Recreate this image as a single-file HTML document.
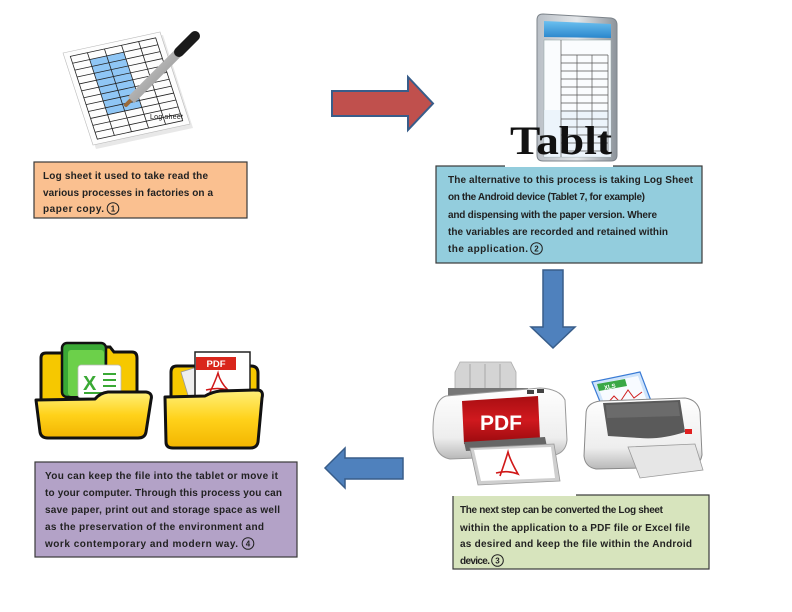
<!DOCTYPE html>
<html><head><meta charset="utf-8"><style>
html,body{margin:0;padding:0;background:#fff;}
svg{display:block;}
.t{font-family:"Liberation Sans",Arial,sans-serif;font-weight:bold;font-size:10px;fill:#222;}
.n{font-family:"Liberation Sans",Arial,sans-serif;font-weight:bold;font-size:8px;fill:#222;text-anchor:middle;}
</style></head><body>
<svg width="792" height="612" viewBox="0 0 792 612" xmlns="http://www.w3.org/2000/svg">
<defs>
<linearGradient id="yel" x1="0" y1="0" x2="0" y2="1"><stop offset="0" stop-color="#fff07a"/><stop offset="0.5" stop-color="#ffd21a"/><stop offset="1" stop-color="#f2b400"/></linearGradient>
<linearGradient id="gray" x1="0" y1="0" x2="1" y2="0"><stop offset="0" stop-color="#b9bfc6"/><stop offset="0.5" stop-color="#e4e7ea"/><stop offset="1" stop-color="#8d949b"/></linearGradient>
<linearGradient id="body" x1="0" y1="0" x2="0" y2="1"><stop offset="0" stop-color="#ffffff"/><stop offset="0.7" stop-color="#eeeeee"/><stop offset="1" stop-color="#b8b8b8"/></linearGradient>
<linearGradient id="red" x1="0" y1="0" x2="0" y2="1"><stop offset="0" stop-color="#a90e12"/><stop offset="0.5" stop-color="#d0191e"/><stop offset="1" stop-color="#9a0a0e"/></linearGradient>
<linearGradient id="pen" x1="0" y1="0" x2="1" y2="1"><stop offset="0" stop-color="#f4f4f4"/><stop offset="1" stop-color="#8a8a8a"/></linearGradient>
<linearGradient id="blu" x1="0" y1="0" x2="0" y2="1"><stop offset="0" stop-color="#6cc0f0"/><stop offset="1" stop-color="#2a86cc"/></linearGradient>
</defs>

<!-- ===== Log sheet image ===== -->
<polygon points="65,56 163,35 193,128 96,149" fill="#d8d8d8" opacity="0.6"/>
<g transform="matrix(0.97,-0.21,0.30,0.92,63,53)">
  <rect x="0" y="0" width="100" height="100" fill="#fdfdfd" stroke="#bbb" stroke-width="0.6" vector-effect="non-scaling-stroke"/>
  <rect x="23.6" y="12.5" width="35.2" height="60" fill="#8fc6f5"/>
  <g stroke="#222" stroke-width="0.8" fill="none">
    <rect x="6" y="5" width="88" height="90" vector-effect="non-scaling-stroke"/>
    <line x1="23.6" y1="5" x2="23.6" y2="95" vector-effect="non-scaling-stroke"/>
    <line x1="41.2" y1="5" x2="41.2" y2="95" vector-effect="non-scaling-stroke"/>
    <line x1="58.8" y1="5" x2="58.8" y2="95" vector-effect="non-scaling-stroke"/>
    <line x1="76.4" y1="5" x2="76.4" y2="95" vector-effect="non-scaling-stroke"/>
    <line x1="6" y1="12.5" x2="94" y2="12.5" vector-effect="non-scaling-stroke"/>
    <line x1="6" y1="20" x2="94" y2="20" vector-effect="non-scaling-stroke"/>
    <line x1="6" y1="27.5" x2="94" y2="27.5" vector-effect="non-scaling-stroke"/>
    <line x1="6" y1="35" x2="94" y2="35" vector-effect="non-scaling-stroke"/>
    <line x1="6" y1="42.5" x2="94" y2="42.5" vector-effect="non-scaling-stroke"/>
    <line x1="6" y1="50" x2="94" y2="50" vector-effect="non-scaling-stroke"/>
    <line x1="6" y1="57.5" x2="94" y2="57.5" vector-effect="non-scaling-stroke"/>
    <line x1="6" y1="65" x2="94" y2="65" vector-effect="non-scaling-stroke"/>
    <line x1="6" y1="72.5" x2="94" y2="72.5" vector-effect="non-scaling-stroke"/>
    <line x1="6" y1="80" x2="94" y2="80" vector-effect="non-scaling-stroke"/>
    <line x1="6" y1="87.5" x2="94" y2="87.5" vector-effect="non-scaling-stroke"/>
  </g>
</g>
<line x1="126" y1="105" x2="132" y2="99" stroke="#9a6a3a" stroke-width="4" stroke-linecap="round"/>
<line x1="131" y1="100" x2="180" y2="51" stroke="url(#pen)" stroke-width="9"/>
<line x1="131" y1="100" x2="180" y2="51" stroke="#777" stroke-width="9" fill="none" opacity="0.25"/>
<line x1="179" y1="52" x2="195" y2="36" stroke="#1a1a1a" stroke-width="10" stroke-linecap="round"/>
<text x="150" y="119" font-family="Liberation Sans, Arial, sans-serif" font-size="7" fill="#111" textLength="33">Log sheet</text>

<!-- ===== Red arrow ===== -->
<polygon points="332,91 408,91 408,77 433,103.5 408,130 408,116 332,116" fill="#C0504D" stroke="#385D8A" stroke-width="2"/>

<!-- ===== Box 1 ===== -->
<rect x="34" y="162" width="213" height="56" fill="#FAC090" stroke="#3a3a3a" stroke-width="1.2"/>
<text class="t" x="43" y="179" textLength="165">Log sheet it used to take read the</text>
<text class="t" x="43" y="196" textLength="170">various processes in factories on a</text>
<text class="t" x="43" y="212" textLength="61">paper copy.</text>
<circle cx="113" cy="208.5" r="5.8" fill="none" stroke="#222" stroke-width="1"/><text class="n" x="113" y="211.5">1</text>

<!-- ===== Box 2 ===== -->
<rect x="436" y="166" width="266" height="97" fill="#93CDDD" stroke="#3a3a3a" stroke-width="1.2"/>
<text class="t" x="448" y="183" textLength="245">The alternative to this process is taking Log Sheet</text>
<text class="t" x="448" y="200" textLength="197">on the Android device (Tablet 7, for example)</text>
<text class="t" x="448" y="218" textLength="209">and dispensing with the paper version. Where</text>
<text class="t" x="448" y="235" textLength="220">the variables are recorded and retained within</text>
<text class="t" x="448" y="252" textLength="80">the application.</text>
<circle cx="536.5" cy="248.5" r="5.8" fill="none" stroke="#222" stroke-width="1"/><text class="n" x="536.5" y="251.5">2</text>

<!-- ===== Tablet image ===== -->
<rect x="505" y="0" width="108" height="167" fill="#fff"/>
<path d="M543,14 L611,18 Q617,19 617,25 L617,155 Q617,161 611,161 L543,161 Q537,161 537,155 L537,20 Q537,14 543,14 Z" fill="url(#gray)" stroke="#7d848b" stroke-width="1"/>
<path d="M544,21 L611,24 L611,38 L544,37 Z" fill="url(#blu)"/>
<rect x="544" y="40" width="67" height="117" fill="#fafcfe" stroke="#9aa" stroke-width="0.6"/>
<rect x="544" y="110" width="67" height="47" fill="#e6f1fa" opacity="0.7"/>
<g stroke="#555" stroke-width="0.7" fill="none">
  <line x1="561" y1="40" x2="561" y2="157"/>
  <line x1="577" y1="55" x2="577" y2="152"/>
  <line x1="592" y1="55" x2="592" y2="152"/>
  <line x1="561" y1="55" x2="608" y2="55"/>
  <line x1="561" y1="63" x2="608" y2="63"/>
  <line x1="561" y1="71" x2="608" y2="71"/>
  <line x1="561" y1="79" x2="608" y2="79"/>
  <line x1="561" y1="87" x2="608" y2="87"/>
  <line x1="561" y1="95" x2="608" y2="95"/>
  <line x1="561" y1="103" x2="608" y2="103"/>
  <line x1="561" y1="111" x2="608" y2="111"/>
  <line x1="561" y1="119" x2="608" y2="119"/>
  <line x1="561" y1="127" x2="608" y2="127"/>
  <line x1="561" y1="135" x2="608" y2="135"/>
  <line x1="561" y1="143" x2="608" y2="143"/>
  <line x1="561" y1="151" x2="608" y2="151"/>
  <line x1="608" y1="55" x2="608" y2="152"/>
</g>
<text x="510" y="154" font-family="Liberation Serif, Times New Roman, serif" font-weight="bold" font-size="40" fill="#111" textLength="102" lengthAdjust="spacingAndGlyphs">Tablt</text>

<!-- ===== Down arrow ===== -->
<polygon points="543,270 563,270 563,327 575,327 553,348 531,327 543,327" fill="#4F81BD" stroke="#385D8A" stroke-width="1.5"/>

<!-- ===== PDF printer ===== -->
<polygon points="455,372 460,362 511,362 516,372 516,398 455,398" fill="#d4d4d4" stroke="#aaa" stroke-width="0.8"/>
<g stroke="#a8a8a8" stroke-width="1"><line x1="470" y1="364" x2="470" y2="397"/><line x1="485" y1="364" x2="485" y2="397"/><line x1="500" y1="364" x2="500" y2="397"/></g>
<rect x="448" y="388" width="80" height="10" fill="#777"/>
<path d="M446,396 L540,388 Q560,389 565,400 L567,440 Q566,452 555,455 L450,459 Q433,456 433,430 Q433,400 446,396 Z" fill="url(#body)" stroke="#9a9a9a" stroke-width="1"/>
<rect x="527" y="390" width="7" height="4" fill="#444"/><rect x="537" y="389" width="7" height="4" fill="#444"/>
<path d="M462,401 L538,396 L540,439 L464,444 Z" fill="url(#red)"/>
<text x="501" y="430" font-family="Liberation Sans, Arial, sans-serif" font-weight="bold" font-size="21" fill="#fff" text-anchor="middle">PDF</text>
<path d="M464,442 L545,437 L547,447 L466,451 Z" fill="#666"/>
<polygon points="470,448 554,444 560,481 478,485" fill="#cfcfcf" stroke="#999" stroke-width="0.8"/>
<polygon points="474,450 551,447 555,478 481,481" fill="#fff"/>
<path d="M500,476 Q505,462 508,452 Q510,460 518,474 Q508,470 496,473" fill="none" stroke="#d01818" stroke-width="1.6"/>

<!-- ===== XLS printer ===== -->
<polygon points="592,382 640,372 653,406 605,414" fill="#cfe4fb" stroke="#3a7bd5" stroke-width="1.2"/>
<polygon points="597,384 638,376 648,404 607,411" fill="#f8fbff"/>
<polygon points="597,384 625,379 627,386 599,391" fill="#3aa845"/>
<text x="604" y="389" font-family="Liberation Sans, Arial, sans-serif" font-weight="bold" font-size="6" fill="#fff" transform="rotate(-11 608 387)">XLS</text>
<polyline points="606,405 614,396 620,402 628,390 634,398 642,392" fill="none" stroke="#d02020" stroke-width="1"/>
<path d="M586,414 Q586,403 600,401 L685,398 Q698,400 700,412 L702,455 Q700,466 690,467 L596,469 Q585,467 584,456 Z" fill="url(#body)" stroke="#8a8a8a" stroke-width="1"/>
<path d="M603,403 L680,400 L685,432 Q660,440 640,438 L608,436 Z" fill="#5a5a5a"/>
<path d="M606,405 L678,402 L680,416 L607,418 Z" fill="#777" opacity="0.6"/>
<rect x="685" y="429" width="7" height="5" fill="#e02020"/>
<polygon points="628,447 695,444 703,470 640,478" fill="#e6e6e6" stroke="#9a9a9a" stroke-width="0.8"/>

<!-- ===== Box 3 ===== -->
<rect x="453" y="495" width="256" height="74" fill="#D7E4BD" stroke="#3a3a3a" stroke-width="1.2"/>
<rect x="452" y="493" width="124" height="3" fill="#fff"/>
<text class="t" x="460" y="513" textLength="203">The next step can be converted the Log sheet</text>
<text class="t" x="460" y="531" textLength="230">within the application to a PDF file or Excel file</text>
<text class="t" x="460" y="547" textLength="232">as desired and keep the file within the Android</text>
<text class="t" x="460" y="564" textLength="30">device.</text>
<circle cx="497.5" cy="560.5" r="5.8" fill="none" stroke="#222" stroke-width="1"/><text class="n" x="497.5" y="563.5">3</text>

<!-- ===== Left arrow ===== -->
<polygon points="403,458 345,458 345,448 325,468 345,488 345,479 403,479" fill="#4F81BD" stroke="#385D8A" stroke-width="1.5"/>

<!-- ===== Excel folder ===== -->
<path d="M41,358 Q41,353 46,353 L62,353 L68,347 L110,347 L114,352 L132,352 Q137,352 137,358 L137,400 L41,400 Z" fill="#f6c800" stroke="#111" stroke-width="3"/>
<rect x="62" y="343" width="44" height="54" rx="5" fill="#3aa935" stroke="#111" stroke-width="2.5"/>
<rect x="68" y="350" width="36" height="46" rx="3" fill="#6cd04a"/>
<rect x="78" y="365" width="43" height="33" rx="3" fill="#fff" stroke="#bbb" stroke-width="0.8"/>
<text x="83" y="390" font-family="Liberation Sans, Arial, sans-serif" font-weight="bold" font-size="20" fill="#3aa935">X</text>
<g stroke="#3aa935" stroke-width="2"><line x1="103" y1="374" x2="116" y2="374"/><line x1="103" y1="380" x2="116" y2="380"/><line x1="103" y1="386" x2="116" y2="386"/><line x1="84" y1="393" x2="116" y2="393"/></g>
<path d="M36,400 L95,399 Q100,393 108,392 L146,392 Q153,393 151,400 L146,432 Q145,438 138,438 L48,438 Q41,438 40,432 Z" fill="url(#yel)" stroke="#111" stroke-width="3" stroke-linejoin="round"/>

<!-- ===== PDF folder ===== -->
<path d="M171,372 Q171,366 177,366 L251,366 Q258,366 258,373 L258,412 L171,412 Z" fill="#f6c800" stroke="#111" stroke-width="3"/>
<polygon points="181,372 214,362 224,396 190,402" fill="#eee" stroke="#999" stroke-width="0.8"/>
<rect x="195" y="352" width="55" height="45" fill="#fff" stroke="#222" stroke-width="1.5"/>
<rect x="196" y="357" width="40" height="13" fill="#d9261c"/>
<text x="216" y="367" font-family="Liberation Sans, Arial, sans-serif" font-weight="bold" font-size="9.5" fill="#fff" text-anchor="middle">PDF</text>
<path d="M210,392 Q215,382 218,373 Q220,382 228,390 Q218,387 206,390" fill="none" stroke="#d01818" stroke-width="1.5"/>
<path d="M165,397 L205,396 Q212,392 220,391 L257,390 Q264,390 262,398 L258,442 Q257,448 250,448 L173,448 Q166,448 166,442 Z" fill="url(#yel)" stroke="#111" stroke-width="3" stroke-linejoin="round"/>

<!-- ===== Box 4 ===== -->
<rect x="35" y="462" width="262" height="95" fill="#B3A2C7" stroke="#3a3a3a" stroke-width="1.2"/>
<text class="t" x="45" y="479" textLength="233">You can keep the file into the tablet or move it</text>
<text class="t" x="45" y="496" textLength="237">to your computer. Through this process you can</text>
<text class="t" x="45" y="513" textLength="235">save paper, print out and storage space as well</text>
<text class="t" x="45" y="530" textLength="219">as the preservation of the environment and</text>
<text class="t" x="45" y="547" textLength="193">work contemporary and modern way.</text>
<circle cx="248" cy="543.5" r="5.8" fill="none" stroke="#222" stroke-width="1"/><text class="n" x="248" y="546.5">4</text>
</svg>
</body></html>
